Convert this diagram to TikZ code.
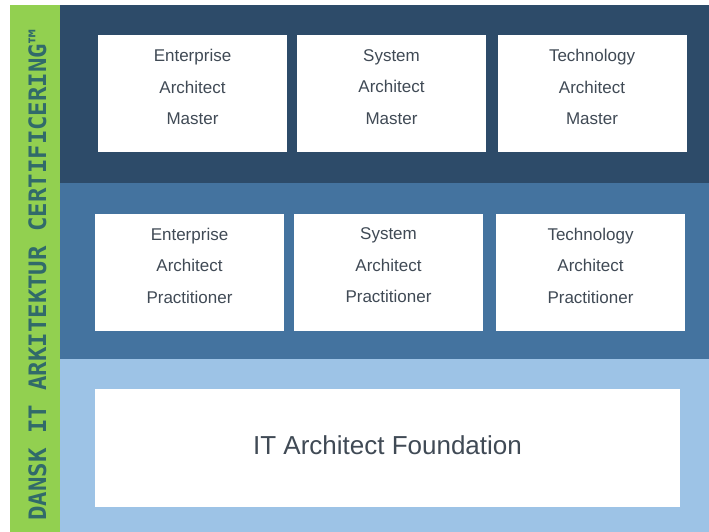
\documentclass[tikz,border=0pt]{standalone}
\usepackage{fontspec}
\setmainfont{Liberation Sans}
\newfontfamily\titlefont{DejaVu Sans Mono}

\definecolor{bandtop}{HTML}{2D4B69}
\definecolor{bandmid}{HTML}{44739F}
\definecolor{bandlow}{HTML}{9DC3E6}
\definecolor{sidebar}{HTML}{92D050}
\definecolor{sidetext}{HTML}{316A6A}
\definecolor{boxtext}{HTML}{404A55}

\tikzset{
  level/.style={fill=white, inner sep=0pt, minimum width=189pt, minimum height=117pt,
    align=center, text=boxtext, font=\fontsize{17}{31.5}\selectfont, text depth=13pt},
  base/.style={level, minimum width=585pt, minimum height=118pt,
    font=\fontsize{26}{30}\selectfont, text depth=6pt}
}

\begin{document}
\begin{tikzpicture}[x=1pt,y=-1pt]
      \useasboundingbox[fill=white] (0,0) rectangle (709,532);

      \fill[sidebar] (10,5) rectangle (60,532);
      \fill[bandtop] (60,5) rectangle (709,183);
      \fill[bandmid] (60,183) rectangle (709,359);
      \fill[bandlow] (60,359) rectangle (709,532);

      \node[rotate=90, text=sidetext, font=\titlefont\bfseries\fontsize{24}{24}\selectfont]
        (title) at (37.5,275) {DANSK IT ARKITEKTUR CERTIFICERING™};

      % master level
      \node[level] (entmaster) at (192.5,93.5) {Enterprise\\Architect\\Master};
      \node[level] (sysmaster) at (391.5,93.5) {System\\Architect\\Master};
      \node[level] (techmaster) at (592,93.5) {Technology\\Architect\\Master};

      % practitioner level
      \node[level] (entpract) at (189.5,272) {Enterprise\\Architect\\Practitioner};
      \node[level] (syspract) at (388.5,272) {System\\Architect\\Practitioner};
      \node[level] (techpract) at (590.5,272) {Technology\\Architect\\Practitioner};

      % foundation level
      \node[base] (found) at (387.5,448) {IT Architect Foundation};
\end{tikzpicture}
\end{document}
